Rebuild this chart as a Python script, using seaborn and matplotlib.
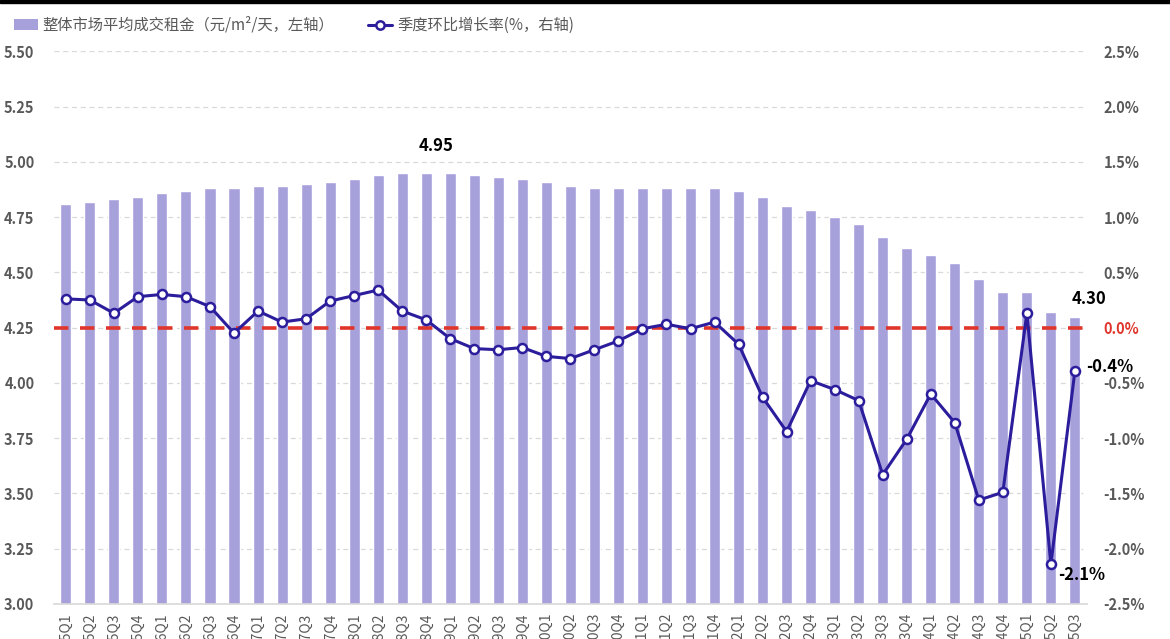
import numpy as np
import pandas as pd
import matplotlib
matplotlib.use("Agg")
import matplotlib.pyplot as plt
import seaborn as sns
from matplotlib.lines import Line2D
from matplotlib.patches import Patch, Rectangle
from matplotlib.ticker import FuncFormatter

quarters = [f"{y}Q{q}" for y in range(15, 26) for q in range(1, 5)][:43]
rent = [4.81, 4.82, 4.83, 4.84, 4.86, 4.87, 4.88, 4.88, 4.89, 4.89, 4.90, 4.91,
        4.92, 4.94, 4.95, 4.95, 4.95, 4.94, 4.93, 4.92, 4.91, 4.89, 4.88, 4.88,
        4.88, 4.88, 4.88, 4.88, 4.87, 4.84, 4.80, 4.78, 4.75, 4.72, 4.66, 4.61,
        4.58, 4.54, 4.47, 4.41, 4.41, 4.32, 4.30]
qoq = [0.26, 0.25, 0.13, 0.28, 0.30, 0.28, 0.19, -0.05, 0.15, 0.05, 0.08, 0.24,
       0.29, 0.34, 0.15, 0.07, -0.10, -0.19, -0.20, -0.18, -0.26, -0.28, -0.20, -0.12,
       -0.01, 0.03, -0.01, 0.05, -0.15, -0.63, -0.94, -0.48, -0.56, -0.66, -1.33, -1.01,
       -0.60, -0.86, -1.56, -1.49, 0.13, -2.14, -0.39]
left_ticks = [3.00, 3.25, 3.50, 3.75, 4.00, 4.25, 4.50, 4.75, 5.00, 5.25, 5.50]
right_ticks = [-2.5, -2.0, -1.5, -1.0, -0.5, 0.0, 0.5, 1.0, 1.5, 2.0, 2.5]
legend_labels = ["整体市场平均成交租金（元/m²/天，左轴）", "季度环比增长率(%，右轴)"]

sns.set_theme(style="white")
plt.rcParams['font.family'] = ['Noto Sans CJK SC', 'DejaVu Sans']

BAR = "#a7a1db"
LINE = "#2b1d9c"
RED = "#e0352b"
GRAY = "#595959"

df = pd.DataFrame({"q": quarters, "rent": rent, "qoq": qoq, "i": np.arange(len(quarters))})

fig = plt.figure(figsize=(11.7, 6.39), dpi=100)
ax = fig.add_axes([0.046, 0.0548, 0.883, 0.865])
sns.barplot(data=df, x="q", y="rent", color=BAR, width=0.46, ax=ax, saturation=1)
ax.set_ylim(3.0, 5.5)
ax.set_xlim(-0.5, len(quarters) - 0.5)
ax.set_yticks(left_ticks)
ax.yaxis.set_major_formatter(FuncFormatter(lambda v, p: f"{v:.2f}"))
ax.set_xlabel("")
ax.set_ylabel("")
for t in left_ticks[1:]:
    ax.axhline(t, color="#d9d9d9", lw=0.9, ls=(0, (4, 3)), zorder=0)
for s in ["top", "right", "left"]:
    ax.spines[s].set_visible(False)
ax.spines["bottom"].set_color("#d9d9d9")
ax.tick_params(axis="y", length=0, labelsize=10.5, labelcolor=GRAY, pad=14)
ax.tick_params(axis="x", length=0, labelsize=10, labelcolor=GRAY, rotation=90, pad=6)
for lab in ax.get_yticklabels():
    lab.set_fontweight("bold")

ax2 = ax.twinx()
ax2.axhline(0, color=RED, lw=2.6, ls=(0, (4, 3.2)), zorder=2)
sns.lineplot(data=df, x="i", y="qoq", ax=ax2, color=LINE, lw=2.2, marker="o",
             markersize=6.5, markerfacecolor="white", markeredgecolor=LINE,
             markeredgewidth=1.8, zorder=3)
ax2.set_ylim(-2.5, 2.5)
ax2.set_yticks(right_ticks)
ax2.yaxis.set_major_formatter(FuncFormatter(lambda v, p: f"{v:.1f}%"))
ax2.set_ylabel("")
ax2.set_xlabel("")
for s in ["top", "right", "left", "bottom"]:
    ax2.spines[s].set_visible(False)
ax2.tick_params(axis="y", length=0, labelsize=10.5, labelcolor=GRAY, pad=12)
for lab, v in zip(ax2.get_yticklabels(), right_ticks):
    lab.set_fontweight("bold")
    if abs(v) < 1e-9:
        lab.set_color(RED)
ax2.set_xlim(-0.5, len(quarters) - 0.5)

# annotations
ax.text(15.4, 5.07, f"{max(rent):.2f}", ha="center", va="center", fontsize=12,
        fontweight="bold", color="black")
ax.text(len(quarters) - 0.4, 4.38, f"{rent[-1]:.2f}", ha="center", va="center",
        fontsize=12, fontweight="bold", color="black")
ax2.text(len(quarters) - 0.55, -0.36, f"{qoq[-1]:.1f}%", ha="left", va="center",
         fontsize=12, fontweight="bold", color="black")
ax2.text(len(quarters) - 0.7, -2.24, f"{qoq[-2]:.1f}%", ha="center", va="center",
         fontsize=12, fontweight="bold", color="black")

handles = [Patch(facecolor=BAR, edgecolor="none"),
           Line2D([0], [0], color=LINE, lw=2.2, marker="o", markersize=6,
                  markerfacecolor="white", markeredgecolor=LINE, markeredgewidth=1.8)]
leg = fig.legend(handles, legend_labels, loc="upper left", bbox_to_anchor=(0.0, 0.995),
                 ncol=2, frameon=False, fontsize=11, columnspacing=2.2,
                 handlelength=1.6, handletextpad=0.3)
for t in leg.get_texts():
    t.set_color(GRAY)

fig.add_artist(Rectangle((0, 0.996), 1, 0.004, transform=fig.transFigure,
                         color="black", zorder=10))

fig.savefig("out.png", dpi=100)
